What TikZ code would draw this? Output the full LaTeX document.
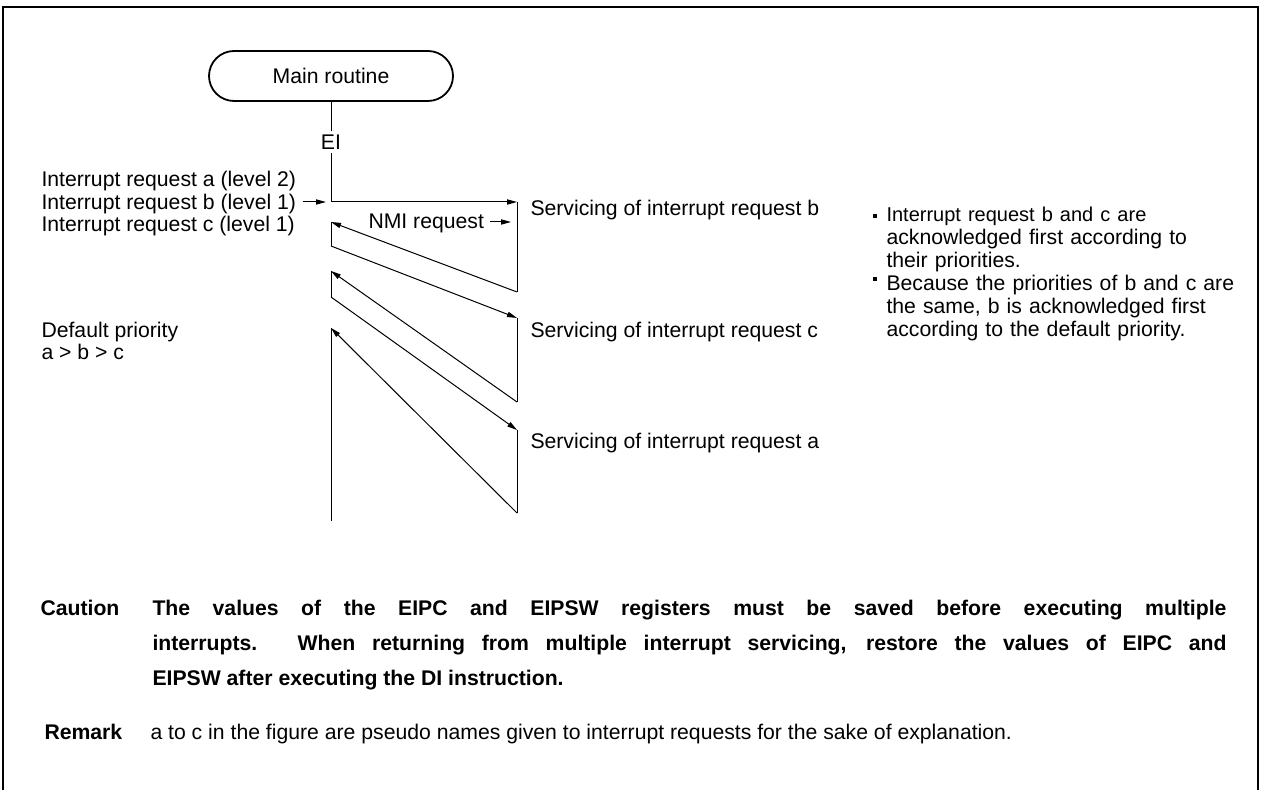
\documentclass[tikz,border=0pt]{standalone}
\usepackage{fontspec}
\setmainfont{Liberation Sans}
\usetikzlibrary{arrows.meta}

\begin{document}
\begin{tikzpicture}[x=0.5pt, y=-0.5pt,
    font=\fontsize{10.6}{11.5}\selectfont,
    line width=0.5pt,
    term/.style={draw, line width=0.9pt, rounded corners=12.5pt,
                 minimum width=122pt, minimum height=25pt},
    txt/.style={inner sep=0pt, anchor=base west},
    note/.style={txt, text width=190pt, align=left},
    bul/.style={fill, inner sep=0pt, minimum size=2.4pt},
    arr/.style={-{Triangle[length=5pt,width=2.6pt]}},
    hdr/.style={txt, font=\fontsize{10.6}{17.5}\selectfont\bfseries}
  ]
  \useasboundingbox (0,0) rectangle (1262,790);
  % frame, open at the bottom
  \draw[line width=1pt] (3,790) -- (3,7) -- (1258,7) -- (1258,790);

  % ------------- main routine -------------
  \node[term] (main) at (331,76) {Main routine};
  \node[inner sep=1.5pt] (ei) at (331,142) {EI};
  \coordinate (t0) at (331,202);
  \draw (main) -- (ei);
  \draw (ei) -- (t0);

  % ------------- requests (left) -------------
  \node[txt] (irqa) at (41,187) {Interrupt request a (level 2)};
  \node[txt] (irqb) at (41,209.5) {Interrupt request b (level 1)};
  \node[txt] (irqc) at (41,232) {Interrupt request c (level 1)};
  \coordinate (irqend) at (326,202);
  \draw[arr, shorten <=3pt] (irqb.east |- irqend) -- (irqend);
  \node[txt] (dflt) at (41,337.5) {Default priority};
  \node[txt] (order) at (41,359.5) {a > b > c};

  % ------------- servicing -------------
  \coordinate (b1) at (517,202);
  \coordinate (b2) at (517,292);
  \coordinate (m1) at (331,222);
  \coordinate (m2) at (331,246);
  \coordinate (c1) at (517,318);
  \coordinate (c2) at (517,402);
  \coordinate (m3) at (331,271);
  \coordinate (m4) at (331,297);
  \coordinate (a1) at (517,430);
  \coordinate (a2) at (517,513);
  \coordinate (m5) at (331,328);
  \coordinate (m6) at (331,521);

  \draw[arr] (t0) -- (b1);
  \draw (b1) -- (b2);
  \draw[arr] (b2) -- (m1);
  \draw (m1) -- (m2);
  \draw[arr] (m2) -- (c1);
  \draw (c1) -- (c2);
  \draw[arr] (c2) -- (m3);
  \draw (m3) -- (m4);
  \draw[arr] (m4) -- (a1);
  \draw (a1) -- (a2);
  \draw[arr] (a2) -- (m5);
  \draw (m5) -- (m6);

  \node[txt] (nmi) at (368,228.5) {NMI request};
  \coordinate (nmiend) at (511,222);
  \draw[arr, shorten <=3pt] (nmi.east |- nmiend) -- (nmiend);

  \node[txt] (svb) at (530,216) {Servicing of interrupt request b};
  \node[txt] (svc) at (530,337.5) {Servicing of interrupt request c};
  \node[txt] (sva) at (530,449) {Servicing of interrupt request a};

  % ------------- notes (right) -------------
  \node[bul] (bul1) at (875,216) {};
  \node[note] (note1) at (886,222)
    {{\fontsize{10}{11.5}\selectfont Interrupt request b and c are}\\
     acknowledged first according to\\their priorities.};
  \node[bul] (bul2) at (875,279) {};
  \node[note] (note2) at (886,291)
    {Because the priorities of b and c are\\the same, b is acknowledged first\\
     according to the default priority.};

  % ------------- caution / remark -------------
  \node[hdr] (caut) at (40,615) {Caution};
  \node[hdr, text width=537pt, align=justify] (cauttxt) at (152,615)
    {The values of the EIPC and EIPSW registers must be saved before executing multiple\linebreak
     interrupts.  When returning from multiple interrupt servicing, restore the values of EIPC and\linebreak
     EIPSW after executing the DI instruction.};
  \node[hdr] (rmk) at (44,739) {Remark};
  \node[txt] (rmktxt) at (150,739)
    {a to c in the figure are pseudo names given to interrupt requests for the sake of explanation.};
\end{tikzpicture}
\end{document}
